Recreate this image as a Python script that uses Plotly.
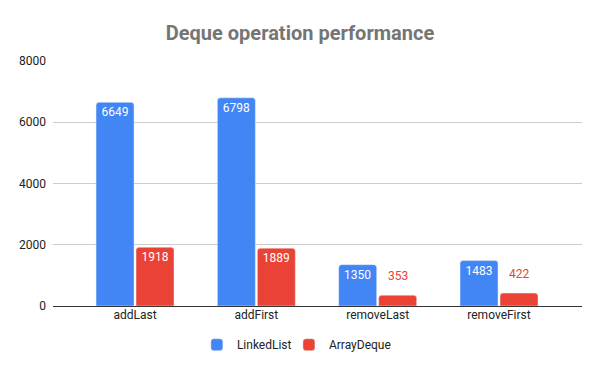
import plotly.graph_objects as go

categories = ["addLast", "addFirst", "removeLast", "removeFirst"]
linked_list = [6649, 6798, 1350, 1483]
array_deque = [1918, 1889, 353, 422]
y_ticks = [0, 2000, 4000, 6000, 8000]

BLUE = "#4285F4"
RED = "#EA4335"
SMALL = 1000  # values below this get their label above the bar

fig = go.Figure()
series = [("LinkedList", linked_list, BLUE, -1, "legend"),
          ("ArrayDeque", array_deque, RED, 1, "legend2")]
for name, vals, color, side, leg in series:
    fig.add_trace(go.Bar(
        name=name, x=categories, y=vals, legend=leg,
        marker=dict(color=color, cornerradius=3),
        text=[str(v) if v >= SMALL else "" for v in vals],
        textposition="inside", insidetextanchor="end", textangle=0,
        insidetextfont=dict(color="white", size=12, family="Roboto"),
        cliponaxis=False,
    ))
    for c, v in zip(categories, vals):
        if v < SMALL:
            fig.add_annotation(
                x=c, y=v, text=str(v), showarrow=False,
                xshift=side * 20, yshift=19, yanchor="middle",
                font=dict(color=color, size=12, family="Roboto"),
            )

leg_common = dict(orientation="h", xanchor="left", y=-0.158, yanchor="middle",
                  font=dict(size=12, color="#222222"), itemwidth=30,
                  bgcolor="rgba(0,0,0,0)")

fig.update_layout(
    width=600, height=371,
    margin=dict(l=53, r=18, t=61, b=65, autoexpand=False),
    paper_bgcolor="white", plot_bgcolor="white",
    font=dict(family="Roboto", size=12, color="#222222"),
    title=dict(text="<b>Deque operation performance</b>", x=0.5, xanchor="center",
               y=0.91, yanchor="middle",
               font=dict(family="Roboto", size=20, color="#757575")),
    barmode="group", bargap=0.341, bargroupgap=0.05,
    uniformtext=dict(mode=False),
    showlegend=True,
    legend=dict(x=0.272, **leg_common),
    legend2=dict(x=0.446, **leg_common),
    xaxis=dict(range=[-0.676, 3.684], showgrid=False, ticks="", showline=False,
               tickangle=0, automargin=False, tickfont=dict(size=12, color="#222222")),
    yaxis=dict(range=[0, 8000], tickvals=y_ticks, showgrid=True, gridcolor="#CCCCCC",
               zeroline=True, zerolinecolor="#333333", zerolinewidth=1, ticks="",
               automargin=False,
               tickfont=dict(size=12, color="#222222"), ticklabelstandoff=6),
)

fig.write_html("out.html", config={"displayModeBar": False},
               post_script="document.body.style.margin='0px';")
